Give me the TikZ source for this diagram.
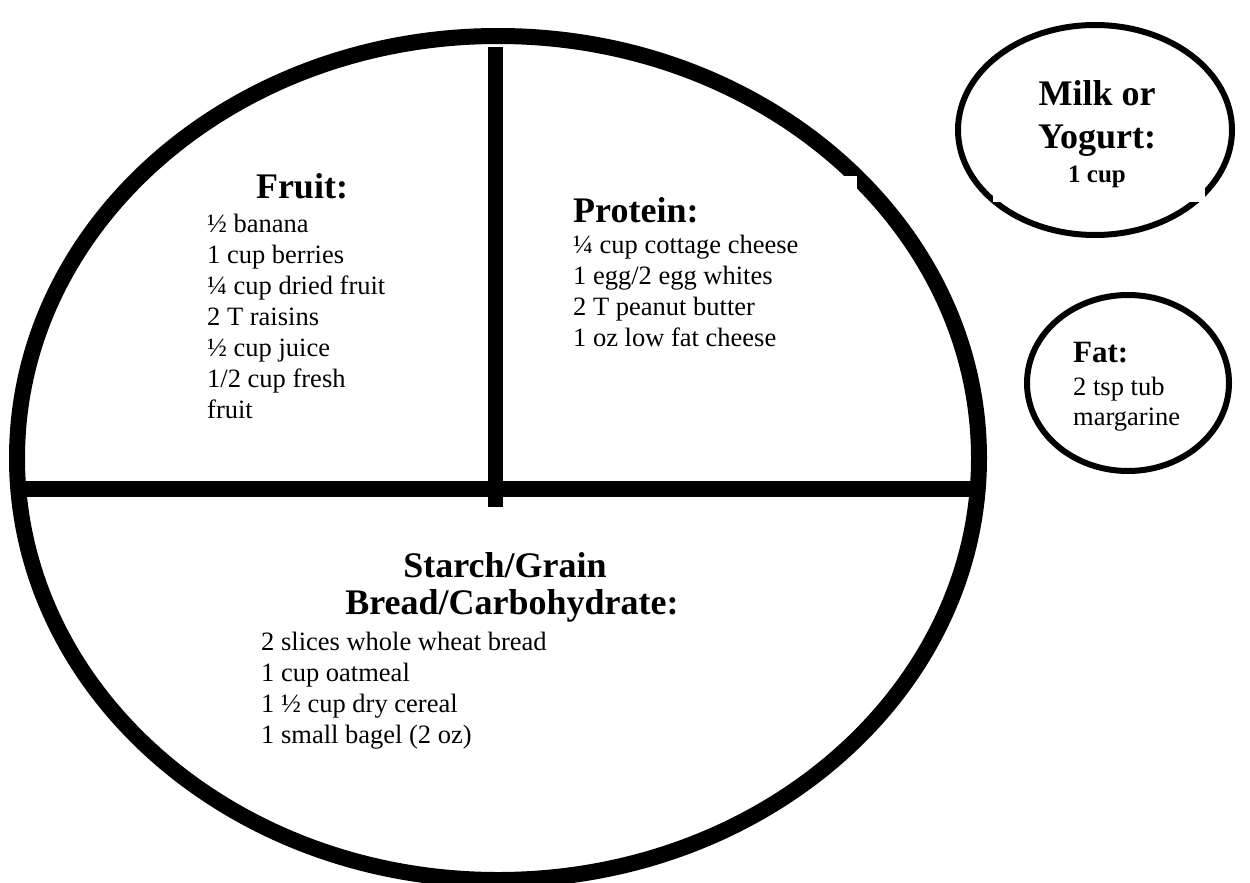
\documentclass[tikz,border=0pt]{standalone}
\usepackage{fontspec}
\setmainfont{Liberation Serif}
\begin{document}
\begin{tikzpicture}[x=1pt,y={(0pt,-1pt)},
  plate/.style={draw=black,line width=16pt},
  bowl/.style={draw=black,line width=6pt},
  divider/.style={line width=16pt},
  head/.style={font=\fontsize{36}{40}\selectfont\bfseries,inner sep=0pt},
  item/.style={font=\fontsize{26.5}{31}\selectfont,inner sep=0pt,anchor=base west},
  mask/.style={fill=white,draw=none}]
\useasboundingbox (0,0) rectangle (1250,883);
% plate
\coordinate (pc) at (498,458);
\draw[plate] (pc) ellipse [x radius=481pt,y radius=422pt];
\coordinate (vt) at (495.5,47);
\coordinate (vb) at (495.5,507);
\coordinate (hl) at (17,489);
\coordinate (hr) at (979,489);
\draw[divider] (hl) -- (hr);
\draw[line width=15pt] (vt) -- (vb);
\fill[mask] (560,176) rectangle (857,330);
% milk
\coordinate (mc) at (1095,130);
\draw[bowl] (mc) ellipse [x radius=137pt,y radius=105pt];
\fill[mask] (993,75) rectangle (1205,202);
% fat
\coordinate (fc) at (1128,383);
\draw[bowl] (fc) ellipse [x radius=101pt,y radius=88pt];
% fruit
\node[head,anchor=base] (fruith) at (302,198) {Fruit:};
\foreach \t [count=\i] in {{½ banana},{1 cup berries},{¼ cup dried fruit},{2 T raisins},{½ cup juice},{1/2 cup fresh},{fruit}}
  \node[item] (fr\i) at (207,{201+31*\i}) {\t};
% protein
\node[head,anchor=base west] (proth) at (573,222) {Protein:};
\foreach \t [count=\i] in {{¼ cup cottage cheese},{1 egg/2 egg whites},{2 T peanut butter},{1 oz low fat cheese}}
  \node[item] (pr\i) at (573,{223+30.8*\i}) {\t};
% starch
\node[head,anchor=base] (sth1) at (505,577) {Starch/Grain};
\node[head,anchor=base] (sth2) at (512,614) {Bread/Carbohydrate:};
\foreach \t [count=\i] in {{2 slices whole wheat bread},{1 cup oatmeal},{1 ½ cup dry cereal},{1 small bagel (2 oz)}}
  \node[item] (st\i) at (261,{619+31*\i}) {\t};
% milk text
\node[head,anchor=base] (mh1) at (1097,105) {Milk or};
\node[head,anchor=base] (mh2) at (1097,148) {Yogurt:};
\node[font=\fontsize{25}{28}\selectfont\bfseries,inner sep=0pt,anchor=base] (mq) at (1097,182) {1 cup};
% fat text
\node[font=\fontsize{31}{34}\selectfont\bfseries,inner sep=0pt,anchor=base west] (fath) at (1073,362) {Fat:};
\node[item] (fa1) at (1073,395) {2 tsp tub};
\node[item] (fa2) at (1073,425) {margarine};
\end{tikzpicture}
\end{document}
